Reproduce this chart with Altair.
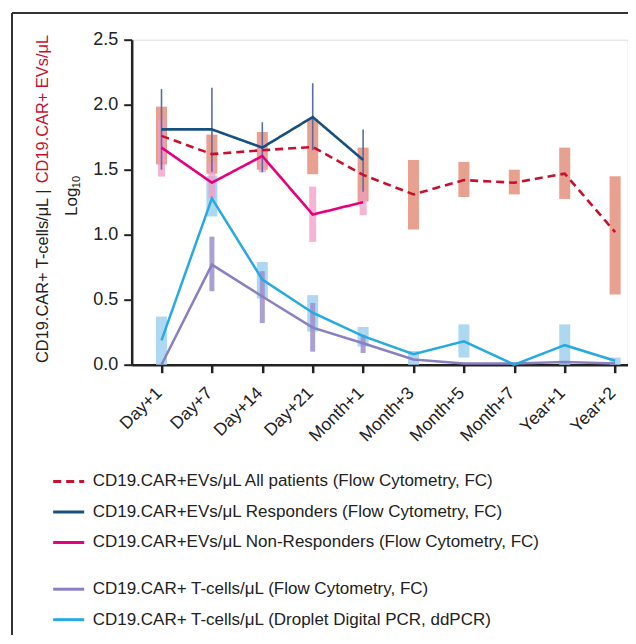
import json
import altair as alt
import pandas as pd

timepoints = ["Day+1", "Day+7", "Day+14", "Day+21", "Month+1",
              "Month+3", "Month+5", "Month+7", "Year+1", "Year+2"]
idx = list(range(10))

# EVs, all patients (dashed) with range boxes
all_mean = [1.76, 1.62, 1.65, 1.675, 1.46, 1.31, 1.42, 1.40, 1.47, 1.02]
all_lo = [1.54, 1.47, 1.50, 1.465, 1.255, 1.04, 1.29, 1.31, 1.275, 0.54]
all_hi = [1.985, 1.77, 1.79, 1.89, 1.67, 1.575, 1.56, 1.50, 1.67, 1.45]

# EVs, responders (first 5 time points) with error bars
resp_mean = [1.81, 1.81, 1.67, 1.905, 1.575]
resp_lo = [1.50, 1.485, 1.48, 1.65, 1.33]
resp_hi = [2.12, 2.13, 1.865, 2.165, 1.81]

# EVs, non-responders
nonresp_mean = [1.67, 1.40, 1.605, 1.155, 1.25]
nonresp_lo = [1.447, 1.28, 1.48, 0.945, 1.15]
nonresp_hi = [1.88, 1.56, 1.72, 1.37, 1.345]

# CAR T-cells, flow cytometry
tfc_mean = [0.0, 0.77, 0.525, 0.285, 0.165, 0.04, 0.01, 0.01, 0.02, 0.01]
tfc_box_idx = [1, 2, 3, 4]
tfc_lo = [0.565, 0.32, 0.10, 0.09]
tfc_hi = [0.985, 0.72, 0.475, 0.23]

# CAR T-cells, ddPCR
dd_mean = [0.187, 1.28, 0.655, 0.40, 0.22, 0.08, 0.18, 0.0, 0.15, 0.03]
dd_box_idx = [0, 1, 2, 3, 4, 5, 6, 8, 9]
dd_lo = [0.0, 1.14, 0.51, 0.255, 0.14, 0.0, 0.055, 0.0, 0.0]
dd_hi = [0.37, 1.45, 0.79, 0.535, 0.29, 0.105, 0.31, 0.31, 0.055]

ev_names = [
    "CD19.CAR+EVs/\u03bcL All patients (Flow Cytometry, FC)",
    "CD19.CAR+EVs/\u03bcL Responders (Flow Cytometry, FC)",
    "CD19.CAR+EVs/\u03bcL Non-Responders (Flow Cytometry, FC)",
]
t_names = [
    "CD19.CAR+ T-cells/\u03bcL (Flow Cytometry, FC)",
    "CD19.CAR+ T-cells/\u03bcL (Droplet Digital PCR, ddPCR)",
]
ev_colors = ["#C8102E", "#17507F", "#E6007E"]
t_colors = ["#8A7FC0", "#27AAE1"]

FONT = "Liberation Sans"

# ---- tables built from the arrays ----
ev_lines = pd.concat([
    pd.DataFrame({"i": idx, "v": all_mean, "s": ev_names[0]}),
    pd.DataFrame({"i": idx[:5], "v": resp_mean, "s": ev_names[1]}),
    pd.DataFrame({"i": idx[:5], "v": nonresp_mean, "s": ev_names[2]}),
])
t_lines = pd.concat([
    pd.DataFrame({"i": idx, "v": tfc_mean, "s": t_names[0]}),
    pd.DataFrame({"i": idx, "v": dd_mean, "s": t_names[1]}),
])
red_box = pd.DataFrame({"i": idx, "lo": all_lo, "hi": all_hi})
pink_box = pd.DataFrame({"i": idx[:5], "lo": nonresp_lo, "hi": nonresp_hi})
resp_err = pd.DataFrame({"i": idx[:5], "lo": resp_lo, "hi": resp_hi})
purple_box = pd.DataFrame({"i": tfc_box_idx, "lo": tfc_lo, "hi": tfc_hi})
blue_box = pd.DataFrame({"i": dd_box_idx, "lo": dd_lo, "hi": dd_hi})
one = pd.DataFrame({"k": [0]})

label_expr = json.dumps(timepoints) + "[datum.value]"

xscale = alt.Scale(domain=[-0.492, 9.15], nice=False, zero=False)
yscale = alt.Scale(domain=[0, 2.5], nice=False)

xaxis = alt.Axis(values=idx, labelExpr=label_expr, labelAngle=-45,
                 labelAlign="right", labelBaseline="top", labelOverlap=False,
                 labelFontSize=17.5, labelFont=FONT, labelColor="#222",
                 labelPadding=11, labelOffset=-9,
                 tickSize=8, tickWidth=2.5, tickColor="#222",
                 domainColor="#222", domainWidth=2.5, grid=False)
yaxis = alt.Axis(values=[0, 0.5, 1.0, 1.5, 2.0, 2.5], format=".1f",
                 labelFontSize=18, labelFont=FONT, labelColor="#222",
                 labelPadding=6, tickSize=8, tickWidth=2, tickColor="#222",
                 domainColor="#222", domainWidth=2.5, grid=False)


def X():
    return alt.X("i:Q", scale=xscale, axis=xaxis, title=None)


def Y(f):
    return alt.Y(f + ":Q", scale=yscale, axis=yaxis, title=None)


blue_layer = alt.Chart(blue_box).mark_bar(size=11, color="#AED7F2").encode(
    x=X(), y=Y("lo"), y2="hi")
red_layer = alt.Chart(red_box).mark_bar(size=11, color="#E8A090").encode(
    x=X(), y=Y("lo"), y2="hi")
pink_layer = alt.Chart(pink_box).mark_bar(size=7, color="#F29BC4", opacity=0.75).encode(
    x=X(), y=Y("lo"), y2="hi")
purple_layer = alt.Chart(purple_box).mark_bar(size=5, color="#9C8FCB", opacity=0.85).encode(
    x=X(), y=Y("lo"), y2="hi")
err_layer = alt.Chart(resp_err).mark_rule(color="#5C6E9E", strokeWidth=1.6).encode(
    x=X(), y=Y("lo"), y2="hi")

legend_common = dict(title=None, orient="none", legendX=-80,
                     symbolType="stroke", symbolSize=961, symbolStrokeWidth=3,
                     labelFontSize=17, labelFont=FONT, labelColor="#222",
                     labelOffset=7, labelLimit=600, rowPadding=5.5, padding=0)

t_layer = alt.Chart(t_lines).mark_line(strokeWidth=2.5).encode(
    x=X(), y=Y("v"),
    stroke=alt.Stroke("s:N", scale=alt.Scale(domain=t_names, range=t_colors),
                      sort=t_names,
                      legend=alt.Legend(legendY=532.5, **legend_common)),
    detail="s:N")

dash_expr = "datum.value == " + json.dumps(ev_names[0]) + " ? [7, 5] : [1, 0]"
ev_layer = alt.Chart(ev_lines).mark_line(strokeWidth=2.6).encode(
    x=X(), y=Y("v"),
    color=alt.Color("s:N", scale=alt.Scale(domain=ev_names, range=ev_colors),
                    sort=ev_names,
                    legend=alt.Legend(legendY=424.7,
                                      symbolDash=alt.ExprRef(expr=dash_expr),
                                      **legend_common)),
    strokeDash=alt.StrokeDash("s:N", scale=alt.Scale(domain=ev_names,
                                                     range=[[8, 5], [1, 0], [1, 0]]),
                              legend=None))

# y-axis title (two colours) as text marks
TS = 16.4
title_black = alt.Chart(one).mark_text(
    text="CD19.CAR+ T-cells/\u03bcL | ", angle=270, align="left", baseline="middle",
    font=FONT, fontSize=TS, color="#222").encode(x=alt.value(-88.7), y=alt.value(323.3))
title_red = alt.Chart(one).mark_text(
    text="CD19.CAR+ EVs/\u03bcL", angle=270, align="right", baseline="middle",
    font=FONT, fontSize=TS, color="#C8102E").encode(x=alt.value(-88.7), y=alt.value(-4.7))
title_log = alt.Chart(one).mark_text(
    text="Log", angle=270, align="left", baseline="middle",
    font=FONT, fontSize=17, color="#222").encode(x=alt.value(-60), y=alt.value(176.3))
title_sub = alt.Chart(one).mark_text(
    text="10", angle=270, align="left", baseline="middle",
    font=FONT, fontSize=11, color="#222").encode(x=alt.value(-55), y=alt.value(148.5))

# outer frame
frame_top = alt.Chart(one).mark_rule(color="#333", strokeWidth=2).encode(
    x=alt.value(-119.7), x2=alt.value(520), y=alt.value(-26.7))
frame_left = alt.Chart(one).mark_rule(color="#333", strokeWidth=2).encode(
    x=alt.value(-119.7), y=alt.value(-26.7), y2=alt.value(640))

chart = alt.layer(
    blue_layer, red_layer, pink_layer, purple_layer, err_layer,
    t_layer, ev_layer,
    title_black, title_red, title_log, title_sub, frame_top, frame_left,
).properties(
    width=496, height=325,
    autosize=alt.AutoSizeParams(type="none"),
    padding={"left": 123.7, "top": 31.7, "right": 0, "bottom": 270},
).configure_view(strokeWidth=0).configure(font=FONT)

chart.save("out.html", embed_options={"renderer": "svg", "actions": False})
